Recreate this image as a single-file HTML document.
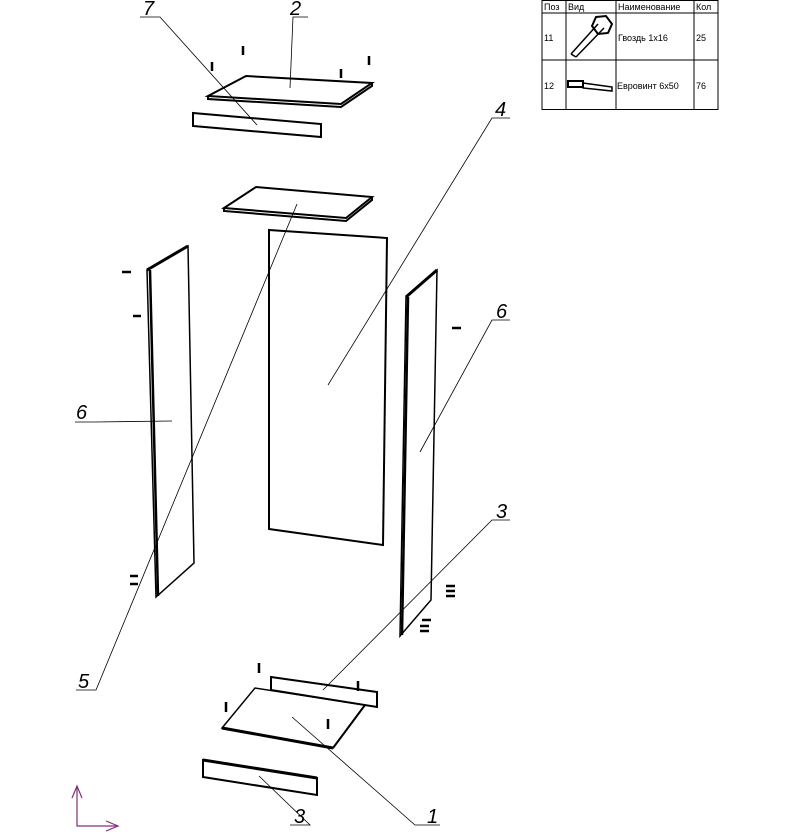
<!DOCTYPE html>
<html><head><meta charset="utf-8"><style>
html,body{margin:0;padding:0;background:#fff;width:795px;height:837px;overflow:hidden}
svg{display:block}
.l{font-family:"Liberation Sans",sans-serif;font-style:italic;font-size:20px;fill:#000}
.t{font-family:"Liberation Sans","DejaVu Sans",sans-serif;font-size:9px;fill:#000}
</style></head><body>
<svg width="795" height="837" viewBox="0 0 795 837" xmlns="http://www.w3.org/2000/svg">
<g fill="none" stroke="#000">
<!-- table -->
<rect x="542" y="0.5" width="176" height="109" stroke-width="1"/>
<line x1="542" y1="13" x2="718" y2="13"/>
<line x1="542" y1="60" x2="718" y2="60"/>
<line x1="566" y1="0" x2="566" y2="110"/>
<line x1="616" y1="0" x2="616" y2="110"/>
<line x1="694" y1="0" x2="694" y2="110"/>
<!-- nail icon -->
<polygon points="596,17 606,16 612,24 608,33 598,34 592,26" stroke-width="2"/>
<line x1="598" y1="24" x2="571" y2="54" stroke-width="1.5"/>
<line x1="604" y1="28" x2="576" y2="57" stroke-width="1.5"/>
<line x1="571" y1="54" x2="576" y2="57" stroke-width="1.5"/>
<!-- screw icon -->
<rect x="568" y="81" width="15" height="6" stroke-width="2"/>
<polygon points="583,83 612,87 612,91 583,88" stroke-width="1.5"/>
<!-- top panel 2 -->
<polygon points="208,96 246,76 372,83 341,104" stroke-width="2"/>
<polyline points="208,96 208,99 341,107 372,86 372,83" stroke-width="2"/>
<!-- rail 7 -->
<polygon points="193,113 321,124 321,137 193,126" stroke-width="2"/>
<!-- panel 5 -->
<polygon points="224,208 256,187 372,197 346,218" stroke-width="2"/>
<polyline points="224,208 224,211 346,221 372,200 372,197" stroke-width="2"/>
<!-- back panel 4 -->
<polygon points="269,230 387,238 383,545 269,529" stroke-width="2"/>
<!-- left side 6 -->
<polygon points="147,270 188,246 194,563 156,597" stroke-width="1.5"/>
<line x1="150" y1="270" x2="158" y2="596" stroke-width="2.5"/>
<line x1="147" y1="270" x2="188" y2="246" stroke-width="3"/>
<!-- right side 6 -->
<polygon points="406,297 437,270 431,600 400,636" stroke-width="1.5"/>
<line x1="408" y1="297" x2="402" y2="635" stroke-width="2.5"/>
<line x1="406" y1="297" x2="437" y2="270" stroke-width="3"/>
<!-- bottom rail 3 back -->
<polygon points="271,677 377,692 377,707 271,690" stroke-width="2"/>
<!-- bottom panel 1 -->
<polygon points="222,728 255,688 365,705 333,748" stroke-width="1.5"/>
<line x1="222" y1="728" x2="333" y2="748" stroke-width="3"/>
<line x1="333" y1="748" x2="365" y2="705" stroke-width="2"/>
<!-- front rail 3 -->
<polygon points="203,760 317,778 317,795 203,777" stroke-width="2"/>
<line x1="203" y1="760" x2="317" y2="778" stroke-width="3"/>
<!-- dowels -->
<g stroke-width="2.5">
<line x1="243" y1="46" x2="243" y2="55"/><line x1="212" y1="62" x2="212" y2="71"/>
<line x1="341" y1="69" x2="341" y2="78"/><line x1="369" y1="56" x2="369" y2="65"/>
<line x1="259" y1="663" x2="259" y2="673"/><line x1="358" y1="681" x2="358" y2="691"/>
<line x1="226" y1="702" x2="226" y2="712"/><line x1="328" y1="719" x2="328" y2="729"/>
<line x1="122" y1="272" x2="131" y2="272"/><line x1="133" y1="316" x2="141" y2="316"/>
<line x1="452" y1="328" x2="461" y2="328"/>
<line x1="130" y1="576" x2="138" y2="576"/><line x1="130" y1="584" x2="138" y2="584"/>
<line x1="446" y1="586" x2="455" y2="586"/><line x1="446" y1="591" x2="455" y2="591"/><line x1="446" y1="596" x2="455" y2="596"/>
<line x1="422" y1="620" x2="431" y2="620"/><line x1="420" y1="626" x2="429" y2="626"/><line x1="420" y1="631" x2="429" y2="631"/>
</g>
<!-- leaders -->
<g stroke-width="0.8">
<polyline points="140,17 160,17 257,125"/>
<polyline points="308,17 293,17 290,88"/>
<polyline points="510,118 492,118 328,385"/>
<polyline points="75,422 95,422 172,421"/>
<polyline points="510,320 492,320 420,452"/>
<polyline points="510,520 492,520 323,690"/>
<polyline points="76,690 96,690 297,204"/>
<polyline points="290,825 310,825 259,776"/>
<polyline points="440,825 415,825 292,717"/>
</g>
<!-- axes -->
<g stroke="#80307a" stroke-width="1.2">
<polyline points="77,786 77,826 118,826"/>
<polyline points="72,798 77,786 82,798"/>
<polyline points="106,821 118,826 106,831"/>
</g>
</g>
<text class="l" x="143" y="15">7</text>
<text class="l" x="290" y="15">2</text>
<text class="l" x="495" y="116">4</text>
<text class="l" x="76" y="419">6</text>
<text class="l" x="496" y="318">6</text>
<text class="l" x="496" y="518">3</text>
<text class="l" x="78" y="688">5</text>
<text class="l" x="294" y="823">3</text>
<text class="l" x="427" y="823">1</text>
<text class="t" x="544" y="10">Поз</text>
<text class="t" x="568" y="10">Вид</text>
<text class="t" x="618" y="10">Наименование</text>
<text class="t" x="696" y="10">Кол</text>
<text class="t" x="544" y="41">11</text>
<text class="t" x="618" y="41">Гвоздь 1х16</text>
<text class="t" x="696" y="41">25</text>
<text class="t" x="544" y="89">12</text>
<text class="t" x="617" y="89">Евровинт 6х50</text>
<text class="t" x="696" y="89">76</text>
</svg>
</body></html>
